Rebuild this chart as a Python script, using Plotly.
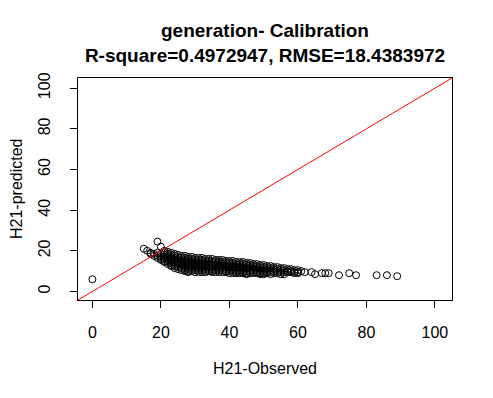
import plotly.graph_objects as go

obs_values = [0, 15, 16, 17, 18, 19, 20, 21, 22, 23, 24, 25, 26, 27, 28, 29, 30,
              31, 32, 33, 34, 35, 36, 37, 38, 39, 40, 41, 42, 43, 44, 45, 46, 47,
              48, 49, 50, 51, 52, 53, 54, 55, 56, 57, 58, 59, 60, 61, 62, 64, 65,
              67, 68, 69, 72, 75, 77, 83, 86, 89]
pred_columns = [
    [6],
    [21],
    [20],
    [19, 18.5],
    [18.5, 17.5],
    [24.5, 19, 17.5, 16.5],
    [22, 18.5, 17, 16, 15.5],
    [20, 19, 18, 17, 16, 15, 14.5],
    [19.5, 18.5, 17.5, 16.5, 15.5, 14.5, 13.5],
    [19, 18, 17, 16, 15, 14, 13, 12.5],
    [18.5, 17.5, 16.5, 15.5, 14.5, 13.5, 12.5, 11.5],
    [18, 17, 16, 15, 14, 13, 12, 11],
    [17.5, 16.5, 15.5, 14.5, 13.5, 12.5, 11.5, 10.5],
    [17.5, 16.5, 15.5, 14.5, 13.5, 12.5, 11.5, 10.5, 10],
    [17, 16, 15, 14, 13, 12, 11, 10, 9.5],
    [17, 16, 15, 14, 13, 12, 11, 10],
    [16.5, 15.5, 14.5, 13.5, 12.5, 11.5, 10.5, 9.5],
    [16.5, 15.5, 14.5, 13.5, 12.5, 11.5, 10.5, 9.5],
    [16.5, 15.5, 14.5, 13.5, 12.5, 11.5, 10.5, 9.5],
    [16, 15, 14, 13, 12, 11, 10, 9.5],
    [16, 15, 14, 13, 12, 11, 10],
    [16, 15, 14, 13, 12, 11, 10, 9.5],
    [15.5, 14.5, 13.5, 12.5, 11.5, 10.5, 9.5],
    [15.5, 14.5, 13.5, 12.5, 11.5, 10.5, 9.5],
    [15.5, 14.5, 13.5, 12.5, 11.5, 10.5, 9.5],
    [15, 14, 13, 12, 11, 10, 9.5],
    [15, 14, 13, 12, 11, 10, 9],
    [15, 14, 13, 12, 11, 10, 9],
    [14.5, 13.5, 12.5, 11.5, 10.5, 9.5, 9],
    [14.5, 13.5, 12.5, 11.5, 10.5, 9.5, 9],
    [14.5, 13.5, 12.5, 11.5, 10.5, 9.5, 9],
    [14, 13, 12, 11, 10, 9, 8.5],
    [14, 13, 12, 11, 10, 9],
    [13.5, 12.5, 11.5, 10.5, 9.5, 9],
    [13.5, 12.5, 11.5, 10.5, 9.5, 9],
    [13, 12, 11, 10, 9, 8.5],
    [13, 12, 11, 10, 9, 8.5],
    [12.5, 11.5, 10.5, 9.5, 9],
    [12.5, 11.5, 10.5, 9.5, 8.5],
    [12, 11, 10, 9],
    [12, 11, 10, 9],
    [11.5, 10.5, 9.5, 8.5],
    [11.5, 10.5, 9.5, 8.5],
    [11, 10, 9.5],
    [11, 10, 9.5],
    [10.5, 9.5, 9],
    [10.5, 9.5, 9],
    [10],
    [9.5],
    [9.5],
    [8.5],
    [9],
    [9],
    [9],
    [8],
    [9],
    [8],
    [8],
    [8],
    [7.5],
]
tick_vals = [0, 20, 40, 60, 80, 100]
axis_lim = [-4.2, 105]

xs, ys = [], []
for ob, col in zip(obs_values, pred_columns):
    for p in col:
        xs.append(ob)
        ys.append(p)

font = "Arial, Liberation Sans, sans-serif"

fig = go.Figure()
fig.add_trace(go.Scatter(
    x=xs, y=ys, mode="markers",
    marker=dict(symbol="circle-open", size=7, color="black", line=dict(width=1)),
    showlegend=False, hoverinfo="skip",
))
# 1:1 line (abline(0, 1))
fig.add_trace(go.Scatter(
    x=axis_lim, y=axis_lim, mode="lines",
    line=dict(color="red", width=1),
    showlegend=False, hoverinfo="skip",
))

axis_common = dict(
    range=axis_lim, tickvals=tick_vals, ticks="outside", ticklen=7,
    tickcolor="black", showline=True, linecolor="black", linewidth=1,
    mirror=True, showgrid=False, zeroline=False, automargin=False,
    tickfont=dict(family=font, size=16, color="black"),
)

# page has an 8px body margin, so the figure is offset by 8px
fig.update_layout(
    width=493, height=398,
    margin=dict(l=70, r=49, t=70, b=106),
    plot_bgcolor="white", paper_bgcolor="white",
    title=dict(
        text="<b>generation- Calibration<br>R-square=0.4972947, RMSE=18.4383972</b>",
        x=257 / 493, xanchor="center", y=1 - 29 / 398, yanchor="top",
        font=dict(family=font, size=19, color="black"),
    ),
    xaxis=dict(**axis_common, ticklabelstandoff=11,
               title=dict(text="H21-Observed", standoff=22,
                          font=dict(family=font, size=16, color="black"))),
    yaxis=dict(**axis_common, tickangle=-90, ticklabelstandoff=14),
    annotations=[dict(
        text="H21-predicted", textangle=-90, showarrow=False,
        xref="paper", yref="paper", x=0, y=0.5, xanchor="center", yanchor="middle",
        xshift=-62, font=dict(family=font, size=16, color="black"),
    )],
)

fig.write_html("out.html")
